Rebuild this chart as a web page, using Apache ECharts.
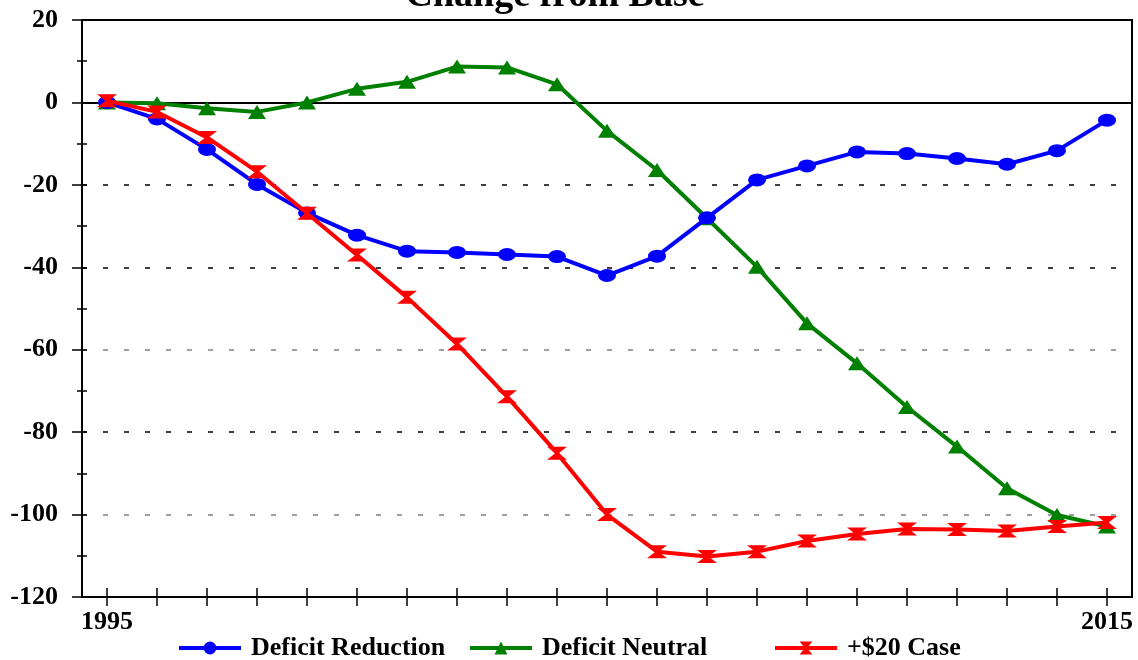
<!DOCTYPE html>
<html>
<head>
<meta charset="utf-8">
<script src="https://cdn.jsdelivr.net/npm/echarts@6/dist/echarts.min.js"></script>
<style>
  html, body { margin: 0; padding: 0; background: #fff; }
  #chart { width: 1138px; height: 660px; }
</style>
</head>
<body>
<div id="chart"></div>
<script>
var years = ['1995','1996','1997','1998','1999','2000','2001','2002','2003','2004',
             '2005','2006','2007','2008','2009','2010','2011','2012','2013','2014','2015'];

var deficitReduction = [0, -4.0, -11.4, -19.9, -26.8, -32.2, -36.1, -36.4, -36.9, -37.4,
                        -42.0, -37.3, -28.0, -18.8, -15.4, -12.0, -12.4, -13.6, -15.0, -11.7, -4.3];
var deficitNeutral = [0, -0.2, -1.4, -2.3, 0, 3.3, 5.0, 8.7, 8.5, 4.4,
                      -6.9, -16.4, -28.1, -39.9, -53.6, -63.3, -73.9, -83.5, -93.6, -100.1, -102.9];
var plus20Case = [0.4, -2.3, -8.5, -16.8, -26.9, -37.0, -47.3, -58.6, -71.4, -85.1,
                  -100.0, -109.0, -110.2, -109.0, -106.4, -104.7, -103.5, -103.6, -104.0, -102.9, -101.9];

var font = '"Liberation Serif", "Times New Roman", serif';
var hourglass = 'path://M0,0 L12,0 L7,5 L12,10 L0,10 L5,5 Z';

var myChart = echarts.init(document.getElementById('chart'));

var legendText = {
    fontFamily: font,
    fontWeight: 'bold',
    fontSize: 26,
    color: '#000',
    padding: [0, 0, 0, 5]
};

function legendAt(left, name) {
    return {
        left: left,
        top: 635,
        padding: 0,
        itemWidth: 62,
        itemHeight: 16,
        lineStyle: {width: 4},
        textStyle: legendText,
        data: [name]
    };
}

var option = {
    animation: false,
    backgroundColor: '#fff',
    graphic: [
        {
            type: 'text',
            x: 555,
            y: 15,
            style: {
                text: 'Change from Base',
                textAlign: 'center',
                textVerticalAlign: 'bottom',
                font: 'bold 38px ' + font,
                fill: '#000'
            }
        }
    ],
    grid: {
        left: 82,
        right: 6,
        top: 20,
        bottom: 63,
        show: true,
        borderColor: '#000',
        borderWidth: 2,
        backgroundColor: 'transparent'
    },
    legend: [
        legendAt(177, 'Deficit Reduction'),
        legendAt(468, 'Deficit Neutral'),
        legendAt(773, '+$20 Case')
    ],
    xAxis: [
        {
            type: 'category',
            data: years,
            boundaryGap: true,
            axisLine: {show: true, onZero: false, lineStyle: {color: '#000', width: 2}},
            axisTick: {show: true, alignWithLabel: true, length: 9, interval: 0, lineStyle: {color: '#000', width: 1.5}},
            axisLabel: {
                interval: function (idx) { return idx === 0 || idx === years.length - 1; },
                margin: 12,
                fontFamily: font,
                fontWeight: 'bold',
                fontSize: 26,
                color: '#000'
            },
            splitLine: {show: false}
        },
        {
            type: 'category',
            data: years,
            boundaryGap: true,
            position: 'bottom',
            axisLine: {show: false, onZero: false},
            axisTick: {show: true, alignWithLabel: true, inside: true, length: 9, interval: 0, lineStyle: {color: '#000', width: 1.5}},
            axisLabel: {show: false, interval: 0},
            splitLine: {show: false}
        }
    ],
    yAxis: [
        {
            type: 'value',
            min: -120,
            max: 20,
            interval: 20,
            axisLine: {show: true, lineStyle: {color: '#000', width: 2}},
            axisTick: {show: true, length: 10, lineStyle: {color: '#000', width: 1.5}},
            minorTick: {show: true, splitNumber: 2, length: 5, lineStyle: {color: '#000', width: 1.5}},
            axisLabel: {
                margin: 24,
                fontFamily: font,
                fontWeight: 'bold',
                fontSize: 26,
                color: '#000'
            },
            splitLine: {
                show: true,
                lineStyle: {
                    color: ['#000', '#808080', '#000', '#808080', '#000', '#000', '#000', '#000'],
                    type: [5, 16],
                    width: 1.5
                }
            }
        },
        {
            type: 'value',
            min: -120,
            max: 20,
            interval: 10,
            position: 'left',
            axisLine: {show: false},
            axisTick: {show: true, inside: true, length: 5, lineStyle: {color: '#000', width: 1.5}},
            axisLabel: {show: false},
            splitLine: {show: false}
        },
        {
            type: 'value',
            min: -120,
            max: 20,
            interval: 120,
            position: 'left',
            axisLine: {show: false},
            axisTick: {show: false},
            axisLabel: {show: false},
            splitLine: {show: true, lineStyle: {color: '#000', type: 'solid', width: 2}}
        }
    ],
    series: [
        {
            name: 'Deficit Reduction',
            type: 'line',
            data: deficitReduction,
            symbol: 'circle',
            symbolSize: [18, 13],
            color: '#0000ff',
            lineStyle: {width: 4, color: '#0000ff'},
            itemStyle: {color: '#0000ff'},
            z: 4
        },
        {
            name: 'Deficit Neutral',
            type: 'line',
            data: deficitNeutral,
            symbol: 'triangle',
            symbolSize: [18, 14],
            color: '#008000',
            lineStyle: {width: 4, color: '#008000'},
            itemStyle: {color: '#008000'},
            z: 3
        },
        {
            name: '+$20 Case',
            type: 'line',
            data: plus20Case,
            symbol: hourglass,
            symbolSize: [20, 13],
            symbolKeepAspect: false,
            color: '#ff0000',
            lineStyle: {width: 4, color: '#ff0000'},
            itemStyle: {color: '#ff0000'},
            z: 5
        }
    ]
};

myChart.setOption(option);
</script>
</body>
</html>
